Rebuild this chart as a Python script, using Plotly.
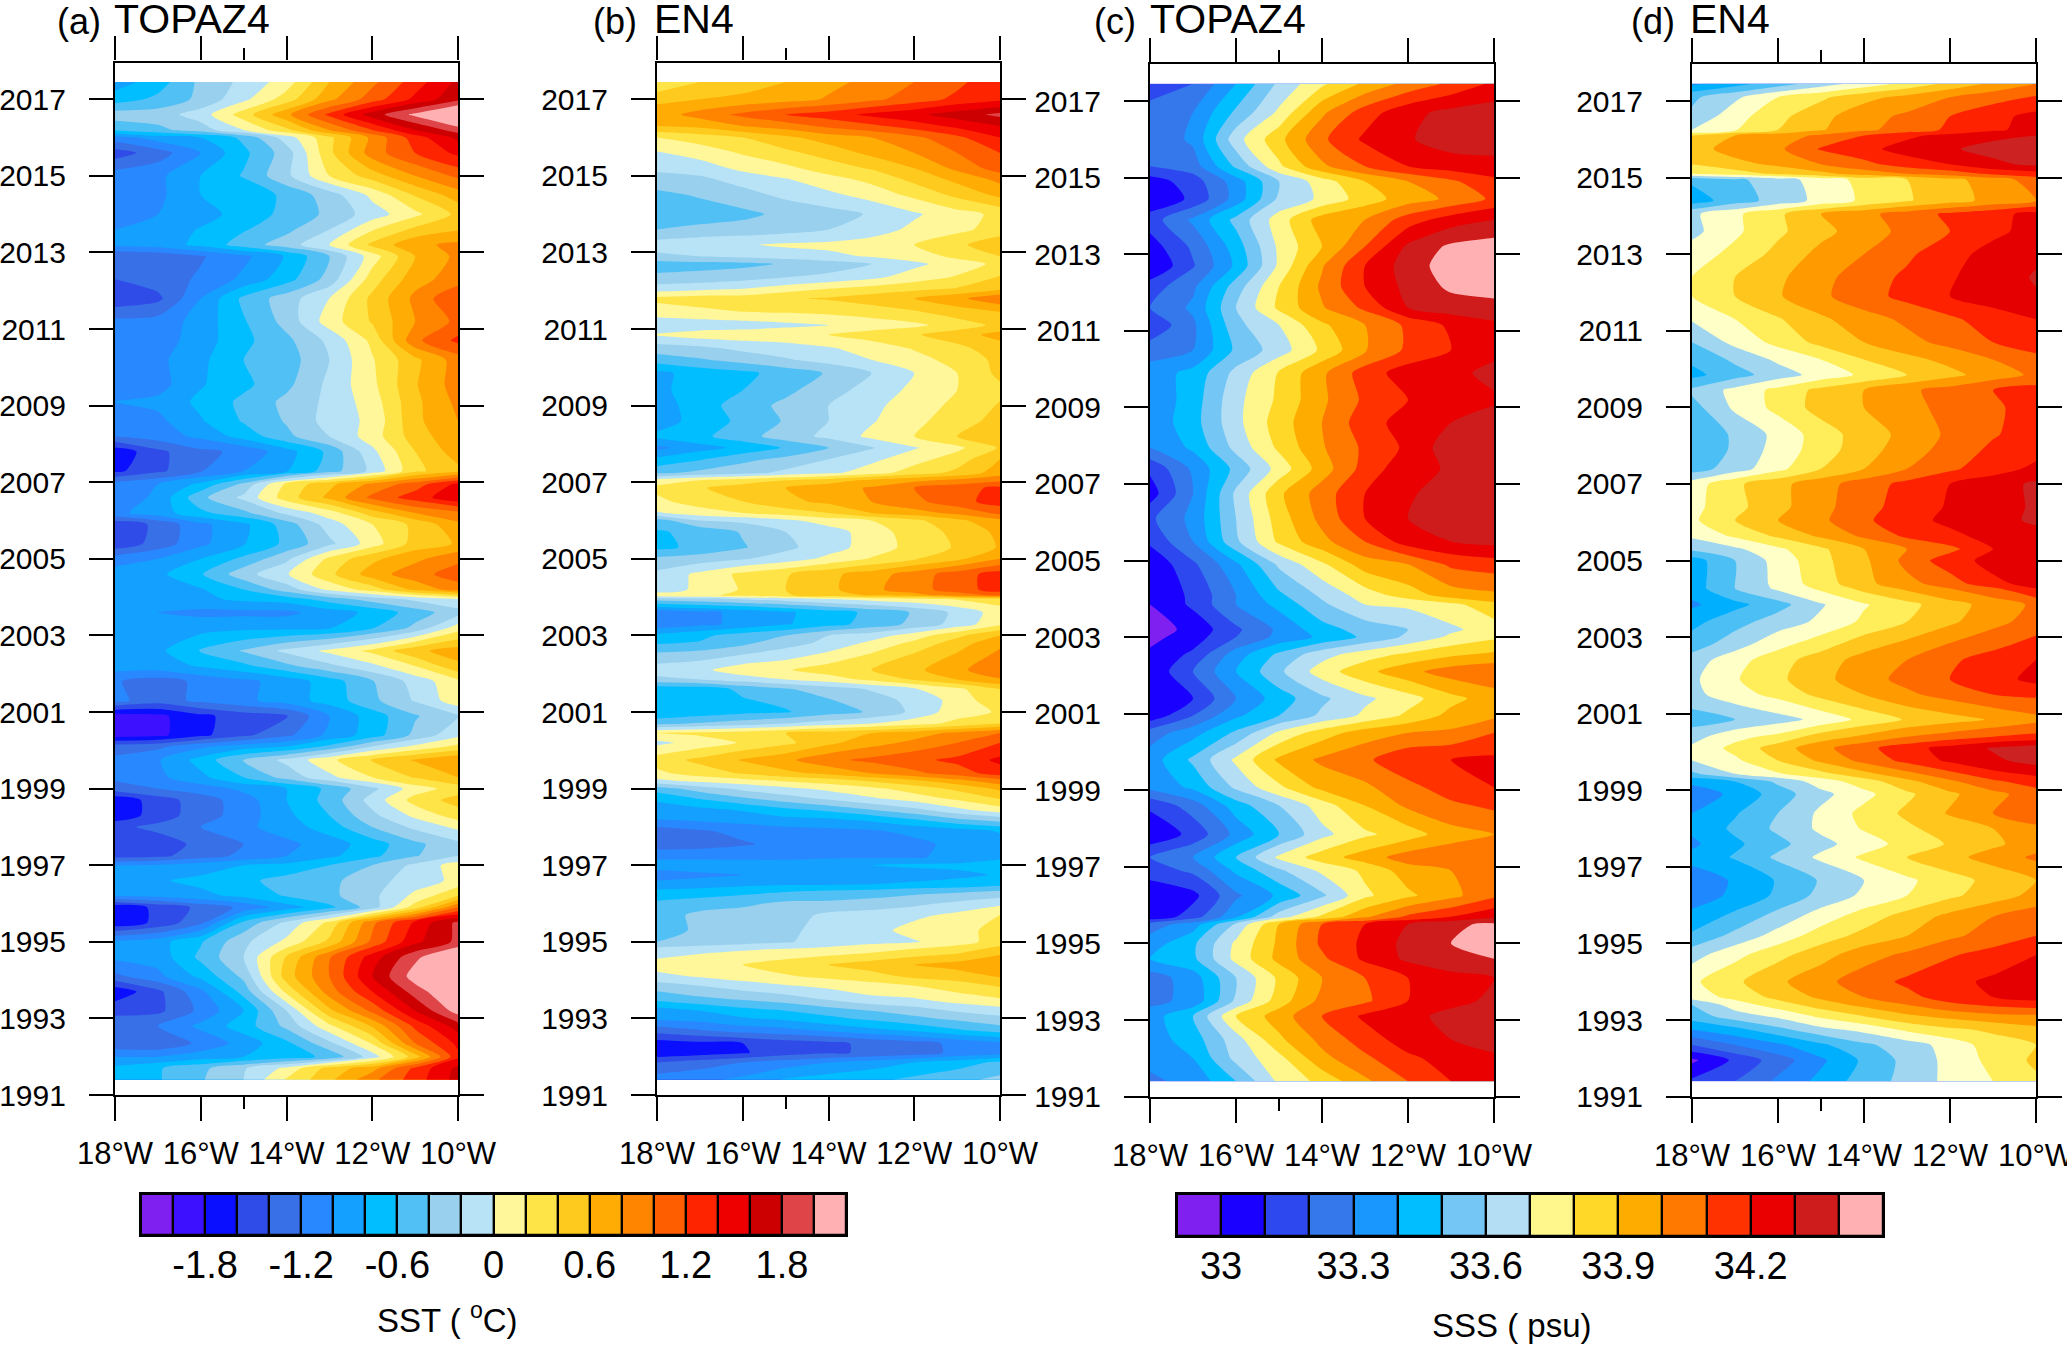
import plotly.graph_objects as go

W, H = 2067, 1346
LON = [-18, -17, -16, -15, -14, -13, -12, -11, -10]
LON_TICKS = [-18, -16, -14, -12, -10]
LON_LABELS = ["18°W", "16°W", "14°W", "12°W", "10°W"]
YEAR_TICKS = list(range(1991, 2018, 2))

SST_COLORS = ["#7F20F0","#3D10FF","#0A10FF","#304CE8","#3870E8","#2888FF","#14A0FF","#00BEFF","#50C0F5","#98D0EE","#B8E2F6",
              "#FFF79A","#FFE448","#FFCA1E","#FFAC04","#FF8400","#FF5E00","#FF2400","#EE0000","#CC0000","#DE4448","#FFB0B2"]
SSS_COLORS = ["#8020F0","#1A00FF","#2E48F0","#3478EC","#1A96FF","#00BEFF","#74C6F4","#B4DEF4",
              "#FFF78C","#FFD828","#FFAC00","#FF7800","#FF3200","#EA0000","#CE1C1C","#FFB0B2"]
SSS_D_COLORS = ["#8020F0","#2000FF","#2E48F0","#3670E8","#2088FF","#00B0FF","#4CC0F5","#A0D6F0",
                "#FFFFC8","#FFEE5A","#FFC61E","#FF9A00","#FF6A00","#FF2200","#E40000","#CC2222"]
SST_BAR_TICKS = [-1.8, -1.2, -0.6, 0, 0.6, 1.2, 1.8]
SST_BAR_LABELS = ["-1.8", "-1.2", "-0.6", "0", "0.6", "1.2", "1.8"]
SSS_BAR_TICKS = [33, 33.3, 33.6, 33.9, 34.2]
SSS_BAR_LABELS = ["33", "33.3", "33.6", "33.9", "34.2"]

A_YEARS = [2017.45,2017.0,2016.6,2016.2,2016.0,2015.6,2015.0,2014.5,2014.0,2013.6,2013.2,2012.9,2012.3,2011.8,2011.2,2010.7,2010.2,2009.55,2009.1,2008.6,2008.2,2007.8,2007.3,2006.95,2006.6,2006.2,2005.9,2005.4,2005.0,2004.6,2004.2,2003.95,2003.6,2003.2,2002.6,2002.2,2001.8,2001.3,2000.9,2000.4,2000.1,1999.75,1999.3,1999.0,1998.7,1998.3,1998.0,1997.55,1997.25,1997.0,1996.6,1996.2,1995.9,1995.5,1995.0,1994.6,1994.1,1993.7,1993.2,1992.8,1992.35,1992.0,1991.7,1991.4]
A_SST = [
[-.9,-.7,-.35,-.15,.1,.6,.95,1.3,1.65],
[-.7,-.55,-.35,-.05,.3,.75,1.1,1.45,1.75],
[-.3,-.3,-.1,.3,.75,1.25,1.7,2.05,2.4],
[-.55,-.45,-.3,0,.35,.8,1.2,1.6,1.9],
[-1.1,-.9,-.8,-.55,-.1,.35,.85,1.3,1.65],
[-1.5,-1.3,-1.0,-.65,-.3,.35,.9,1.2,1.45],
[-1.1,-1.05,-.8,-.58,-.25,.2,.5,.8,1.05],
[-1.1,-1.05,-.8,-.75,-.55,-.3,.05,.42,.7],
[-1.05,-1.0,-.9,-.7,-.55,-.35,-.1,.15,.45],
[-1.0,-.95,-.78,-.62,-.45,-.2,.18,.45,.58],
[-.95,-.9,-.75,-.5,-.3,0,.45,.75,.85],
[-1.4,-1.35,-1.22,-1.05,-.78,-.4,.1,.6,.85],
[-1.4,-1.3,-1.17,-.95,-.68,-.32,.3,.72,.9],
[-1.55,-1.45,-1.0,-.55,-.3,0,.45,.85,1.2],
[-1.15,-1.12,-.92,-.62,-.33,.1,.42,.8,1.05],
[-1.15,-1.1,-.9,-.65,-.45,-.15,.25,.95,1.25],
[-1.1,-1.05,-.85,-.6,-.5,-.2,.18,.55,.9],
[-1.15,-1.08,-.82,-.65,-.45,-.15,.15,.58,.9],
[-1.0,-.95,-.75,-.55,-.35,-.15,.1,.55,.85],
[-1.15,-1.05,-.82,-.58,-.38,-.12,.05,.55,.8],
[-1.2,-1.1,-.95,-.72,-.45,-.2,.1,.5,.75],
[-1.75,-1.45,-1.25,-1.15,-.88,-.55,-.05,.4,.7],
[-1.65,-1.45,-1.22,-1.0,-.82,-.5,-.15,.35,.55],
[-1.1,-1.0,-.75,-.35,.25,.55,.85,1.1,1.45],
[-1.15,-.95,-.45,-.15,.3,.65,1.05,1.3,1.55],
[-1.05,-.9,-.65,-.45,-.15,.1,.5,.8,.95],
[-1.55,-1.35,-1.05,-.85,-.5,-.1,.2,.45,.75],
[-1.55,-1.32,-1.05,-.82,-.55,-.25,.1,.48,.62],
[-1.1,-1.0,-.8,-.55,-.25,.25,.55,.75,.95],
[-.9,-.85,-.62,-.28,-.02,.35,.7,.92,1.1],
[-1.0,-.95,-.82,-.6,-.3,.05,.3,.65,.9],
[-.95,-.95,-.85,-.75,-.7,-.5,-.3,-.15,0],
[-1.0,-1.0,-1.05,-1.05,-1.05,-.9,-.75,-.5,-.28],
[-.9,-.9,-.88,-.85,-.85,-.82,-.62,-.35,.1],
[-.9,-.85,-.58,-.38,-.15,.05,.25,.55,.7],
[-.9,-.88,-.78,-.65,-.45,-.25,-.05,.2,.55],
[-1.18,-1.3,-1.15,-1.05,-.92,-.7,-.42,-.12,.15],
[-1.15,-1.3,-1.15,-1.05,-.9,-.72,-.45,-.18,.12],
[-1.9,-1.85,-1.65,-1.5,-1.42,-1.0,-.7,-.42,-.22],
[-1.9,-1.85,-1.65,-1.45,-1.25,-.95,-.7,-.35,-.05],
[-1.3,-1.25,-1.05,-.9,-.8,-.55,-.2,.05,.25],
[-1.15,-1.02,-.72,-.38,-.15,.15,.42,.62,.78],
[-1.15,-1.05,-.85,-.6,-.32,-.05,.2,.42,.6],
[-1.3,-1.2,-1.1,-.95,-.8,-.55,-.25,.1,.3],
[-1.75,-1.5,-1.3,-1.1,-.8,-.52,-.12,.28,.48],
[-1.75,-1.5,-1.3,-1.1,-.85,-.6,-.25,.05,.3],
[-1.45,-1.35,-1.2,-1.05,-.9,-.7,-.4,-.15,.05],
[-1.55,-1.5,-1.35,-1.2,-1.05,-.9,-.7,-.45,-.25],
[-1.5,-1.45,-1.3,-1.15,-1.0,-.85,-.65,-.42,-.2],
[-1.0,-.98,-.9,-.8,-.75,-.6,-.4,-.15,.1],
[-.9,-.82,-.75,-.65,-.52,-.45,-.28,-.1,.05],
[-1.0,-.95,-.85,-.75,-.58,-.45,-.25,.05,.4],
[-1.75,-1.55,-1.35,-1.15,-.9,-.65,-.3,.3,1.0],
[-1.75,-1.55,-1.25,-.55,-.15,.25,.95,1.45,1.85],
[-.95,-.88,-.62,-.25,.05,.45,1.05,1.55,1.85],
[-.95,-.92,-.55,-.2,.42,.98,1.5,1.95,2.3],
[-1.25,-1.05,-.75,-.35,.5,1.0,1.6,2.1,2.4],
[-1.75,-1.45,-1.05,-.52,.25,.9,1.4,1.9,2.25],
[-1.45,-1.45,-1.15,-.8,-.2,.55,1.05,1.6,2.1],
[-1.3,-1.2,-.95,-.7,-.35,.15,.62,1.25,1.7],
[-1.35,-1.38,-1.15,-.92,-.65,-.25,.22,1.0,1.45],
[-1.0,-1.0,-.9,-.8,-.7,-.55,-.1,.5,1.35],
[-.75,-.62,-.45,-.22,.05,.48,.72,1.25,1.65],
[-.7,-.62,-.42,-.2,.22,.55,.95,1.3,1.68],
]

B_YEARS = [2017.45,2017.0,2016.6,2016.3,2016.0,2015.6,2015.2,2014.9,2014.5,2014.0,2013.6,2013.2,2012.9,2012.7,2012.35,2012.05,2011.8,2011.45,2011.1,2010.85,2010.5,2010.2,2009.85,2009.4,2009.0,2008.6,2008.2,2007.9,2007.6,2007.25,2007.05,2006.85,2006.5,2006.2,2006.0,2005.7,2005.3,2005.0,2004.6,2004.2,2004.05,2003.95,2003.6,2003.3,2003.0,2002.8,2002.5,2002.1,2001.85,2001.6,2001.3,2001.0,2000.7,2000.45,2000.2,1999.75,1999.4,1999.2,1999.0,1998.75,1998.45,1998.2,1997.9,1997.55,1997.2,1997.0,1996.75,1996.5,1996.3,1996.0,1995.7,1995.3,1995.0,1994.8,1994.4,1994.1,1993.85,1993.5,1993.2,1993.0,1992.7,1992.35,1992.1,1991.85,1991.4]
B_SST = [
[.2,.4,.5,.6,.75,.85,1.0,1.15,1.35],
[.55,.6,.65,.72,.82,.95,1.1,1.25,1.35],
[.7,.88,1.05,1.2,1.3,1.45,1.55,1.7,1.85],
[.6,.65,.8,.9,1.05,1.15,1.3,1.45,1.6],
[.2,.3,.4,.55,.7,.8,.95,1.15,1.4],
[-.02,.08,.22,.35,.48,.65,.8,1.0,1.2],
[-.15,-.1,.05,.15,.3,.42,.6,.85,1.1],
[-.3,-.25,-.12,-.02,.12,.25,.45,.65,.85],
[-.45,-.38,-.28,-.15,-.05,.08,.25,.45,.65],
[-.55,-.5,-.45,-.35,-.28,-.18,-.03,.12,.25],
[-.4,-.35,-.32,-.28,-.2,-.1,.05,.15,.28],
[-.1,-.05,-.02,.03,.05,.1,.2,.35,.55],
[-.25,-.2,-.15,-.1,-.05,.02,.1,.25,.4],
[-.5,-.47,-.45,-.38,-.3,-.2,-.05,.1,.25],
[-.35,-.33,-.28,-.2,-.15,-.05,.1,.22,.42],
[-.1,-.05,0,.1,.2,.28,.35,.42,.55],
[.25,.3,.3,.38,.42,.5,.6,.75,.95],
[.1,.15,.2,.22,.25,.3,.38,.5,.6],
[-.15,-.12,-.1,-.05,0,.08,.15,.3,.45],
[.02,.1,.12,.15,.2,.3,.38,.5,.68],
[-.3,-.25,-.15,-.1,-.02,.08,.22,.35,.5],
[-.5,-.42,-.32,-.22,-.12,0,.12,.28,.45],
[-.85,-.72,-.65,-.52,-.38,-.2,0,.2,.45],
[-.85,-.7,-.6,-.45,-.28,-.12,.05,.2,.35],
[-.9,-.7,-.5,-.35,-.2,-.05,.1,.25,.42],
[-.9,-.72,-.55,-.38,-.2,-.02,.15,.3,.48],
[-.75,-.65,-.48,-.3,-.15,.05,.2,.4,.6],
[-1.05,-.88,-.75,-.58,-.4,-.22,-.02,.15,.42],
[-.75,-.62,-.45,-.35,-.2,-.05,.12,.3,.6],
[-.45,-.35,-.28,-.15,-.05,.1,.3,.45,.7],
[.1,.2,.3,.4,.5,.65,.75,.85,.95],
[.25,.38,.5,.6,.72,.82,1.0,1.12,1.25],
[.15,.3,.4,.55,.65,.8,.95,1.12,1.3],
[-.02,.1,.2,.3,.4,.6,.72,.85,1.05],
[-.5,-.2,-.15,-.05,.1,.2,.35,.55,.75],
[-.62,-.55,-.38,-.2,-.1,.1,.3,.45,.65],
[-.65,-.55,-.42,-.25,-.08,.08,.28,.42,.62],
[-.35,-.3,-.22,-.1,.05,.22,.38,.55,.8],
[-.15,.05,.25,.38,.55,.7,.9,1.1,1.3],
[-.12,.05,.22,.4,.55,.75,.92,1.1,1.3],
[.1,.15,.25,.38,.5,.62,.72,.9,1.05],
[-.3,-.25,-.18,-.1,0,.08,.15,.22,.3],
[-1.15,-1.05,-.95,-.83,-.7,-.55,-.38,-.15,.1],
[-1.15,-1.05,-.95,-.82,-.68,-.52,-.35,-.12,.15],
[-.75,-.65,-.5,-.4,-.2,-.1,.1,.35,.6],
[-.62,-.58,-.45,-.28,-.15,.05,.25,.5,.75],
[-.35,-.3,-.2,-.1,.05,.22,.42,.62,.85],
[-.1,-.05,.12,.18,.3,.4,.55,.75,.95],
[-.25,-.2,-.1,0,.1,.25,.42,.6,.78],
[-.75,-.72,-.55,-.42,-.3,-.18,-.02,.15,.4],
[-.78,-.72,-.62,-.55,-.42,-.28,-.15,.08,.35],
[-.8,-.72,-.65,-.62,-.48,-.38,-.15,.12,.22],
[-.45,-.38,-.3,-.2,-.1,0,.12,.25,.4],
[.2,.25,.3,.4,.5,.6,.7,.85,1.0],
[-.05,.08,.22,.35,.55,.72,.85,1.0,1.2],
[.3,.45,.62,.75,.95,1.05,1.15,1.25,1.45],
[.15,.3,.42,.55,.65,.8,.95,1.1,1.3],
[-.05,.05,.12,.22,.3,.42,.55,.72,.92],
[-.5,-.3,-.15,-.05,.05,.15,.3,.45,.65],
[-.75,-.58,-.42,-.28,-.15,-.02,.1,.25,.42],
[-.9,-.85,-.78,-.65,-.55,-.4,-.25,-.05,.12],
[-1.0,-.95,-.9,-.85,-.82,-.75,-.6,-.42,-.3],
[-1.3,-1.22,-1.15,-1.08,-1.05,-1.02,-.95,-.88,-.78],
[-1.3,-1.28,-1.22,-1.15,-1.1,-1.08,-1.05,-.95,-.88],
[-1.05,-1.05,-1.05,-1.05,-1.02,-1.02,-1.02,-.95,-.85],
[-.85,-.85,-.88,-.88,-.85,-.8,-.75,-.75,-.65],
[-1.15,-1.05,-1.0,-.95,-.95,-.92,-.92,-.85,-.78],
[-.9,-.9,-.85,-.82,-.82,-.8,-.75,-.72,-.65],
[-.75,-.7,-.65,-.6,-.55,-.52,-.45,-.42,-.35],
[-.55,-.5,-.45,-.35,-.35,-.3,-.25,-.15,-.05],
[-.5,-.35,-.3,-.3,-.15,-.12,-.05,.05,.2],
[-.45,-.38,-.3,-.25,-.12,-.08,.08,.15,.25],
[-.4,-.35,-.28,-.22,-.12,-.05,-.02,.12,.28],
[-.12,-.05,-.02,.02,.06,.12,.22,.3,.5],
[.08,.12,.2,.3,.4,.5,.6,.68,.78],
[-.05,.02,.1,.18,.25,.32,.45,.5,.62],
[-.3,-.2,-.1,-.02,.05,.12,.2,.3,.42],
[-.55,-.45,-.38,-.3,-.18,-.05,-.02,.1,.18],
[-.9,-.8,-.68,-.6,-.5,-.4,-.3,-.18,-.1],
[-.95,-.92,-.82,-.75,-.65,-.55,-.45,-.35,-.25],
[-1.3,-1.2,-1.1,-1.05,-.95,-.85,-.75,-.62,-.5],
[-1.7,-1.65,-1.6,-1.5,-1.45,-1.35,-1.28,-1.15,-1.05],
[-1.75,-1.7,-1.62,-1.5,-1.42,-1.38,-1.3,-1.15,-1.1],
[-1.4,-1.3,-1.2,-1.1,-1.0,-.9,-.8,-.7,-.55],
[-1.1,-1.05,-.95,-.78,-.7,-.65,-.55,-.45,-.35],
]

C_YEARS = [2017.45,2016.7,2016.0,2015.3,2014.9,2014.45,2013.9,2013.2,2012.7,2012.15,2011.6,2011.15,2010.5,2009.9,2009.2,2008.6,2007.95,2007.4,2006.75,2006.1,2005.5,2004.9,2004.1,2003.85,2003.2,2003.0,2002.55,2002.1,2001.4,2000.95,2000.5,1999.8,1999.08,1998.6,1997.85,1997.25,1996.9,1996.25,1995.7,1995.5,1995.0,1994.6,1994.1,1993.5,1993.1,1992.5,1992.0,1991.4]
C_SSS = [
[33.13,33.2,33.4,33.62,33.78,33.92,34.03,34.12,34.22],
[33.25,33.3,33.52,33.72,33.98,34.15,34.27,34.33,34.35],
[33.22,33.32,33.66,33.87,34.08,34.22,34.29,34.35,34.38],
[33.2,33.25,33.52,33.78,33.98,34.1,34.2,34.25,34.25],
[33.05,33.15,33.35,33.6,33.75,33.9,34.0,34.08,34.18],
[33.02,33.12,33.34,33.62,33.72,33.85,33.95,34.02,34.12],
[33.15,33.32,33.53,33.75,33.95,34.0,34.15,34.25,34.3],
[33.05,33.22,33.45,33.72,33.9,34.1,34.32,34.42,34.45],
[33.0,33.19,33.42,33.72,33.99,34.2,34.35,34.45,34.47],
[33.15,33.28,33.55,33.8,34.02,34.2,34.33,34.42,34.45],
[33.2,33.32,33.6,33.82,33.99,34.12,34.3,34.35,34.36],
[33.12,33.28,33.57,33.7,33.88,34.0,34.12,34.22,34.28],
[33.25,33.3,33.52,33.65,33.82,33.99,34.12,34.2,34.28],
[33.35,33.43,33.63,33.81,33.98,34.15,34.25,34.28,34.32],
[33.32,33.45,33.67,33.82,33.98,34.12,34.2,34.27,34.29],
[33.33,33.46,33.67,33.85,34.0,34.16,34.24,34.3,34.33],
[33.3,33.42,33.63,33.82,33.99,34.12,34.22,34.36,34.38],
[33.12,33.32,33.53,33.74,33.95,34.14,34.27,34.31,34.37],
[33.05,33.3,33.62,33.88,34.05,34.2,34.28,34.37,34.4],
[33.18,33.33,33.6,33.85,34.03,34.2,34.3,34.38,34.38],
[33.12,33.3,33.58,33.82,33.97,34.1,34.25,34.3,34.33],
[33.02,33.18,33.38,33.62,33.78,33.95,34.0,34.12,34.15],
[33.02,33.12,33.3,33.48,33.62,33.75,33.85,33.95,33.98],
[33.0,33.12,33.3,33.43,33.58,33.7,33.72,33.77,33.87],
[32.95,33.03,33.18,33.32,33.46,33.54,33.6,33.68,33.75],
[32.97,33.05,33.2,33.33,33.42,33.52,33.62,33.72,33.78],
[33.02,33.12,33.35,33.52,33.66,33.75,33.82,33.88,33.92],
[33.02,33.2,33.4,33.58,33.75,33.87,33.97,34.05,34.08],
[33.0,33.1,33.3,33.45,33.58,33.68,33.76,33.87,33.95],
[33.03,33.2,33.38,33.5,33.62,33.72,33.82,33.93,33.98],
[33.25,33.36,33.52,33.72,33.85,33.95,34.0,34.02,34.1],
[33.35,33.52,33.72,33.92,34.02,34.08,34.18,34.2,34.22],
[33.33,33.42,33.62,33.78,33.93,33.98,34.07,34.15,34.2],
[33.12,33.25,33.45,33.6,33.75,33.9,34.02,34.08,34.12],
[33.02,33.13,33.33,33.5,33.67,33.78,33.85,33.96,34.0],
[33.2,33.3,33.5,33.72,33.85,33.95,34.05,34.06,34.08],
[33.15,33.22,33.42,33.58,33.72,33.82,33.95,34.0,34.08],
[33.02,33.07,33.28,33.42,33.58,33.78,33.88,33.97,34.08],
[33.02,33.15,33.38,33.65,33.82,33.98,34.12,34.2,34.28],
[33.25,33.35,33.62,33.9,34.1,34.2,34.3,34.38,34.42],
[33.35,33.48,33.72,33.92,34.12,34.22,34.33,34.4,34.46],
[33.4,33.48,33.73,33.93,34.08,34.22,34.32,34.36,34.4],
[33.25,33.35,33.6,33.82,34.0,34.1,34.2,34.27,34.3],
[33.27,33.33,33.62,33.85,34.03,34.08,34.2,34.27,34.32],
[33.35,33.5,33.8,33.95,34.1,34.22,34.27,34.33,34.37],
[33.35,33.45,33.66,33.88,34.03,34.15,34.25,34.3,34.35],
[33.33,33.4,33.63,33.77,33.97,34.08,34.18,34.24,34.28],
[33.28,33.33,33.5,33.72,33.83,33.98,34.1,34.2,34.27],
]

D_YEARS = [2017.45,2017.1,2016.6,2016.25,2016.1,2015.75,2015.35,2015.1,2014.95,2014.4,2014.05,2013.6,2013.0,2012.4,2011.9,2011.3,2010.7,2010.25,2009.85,2009.45,2009.0,2008.3,2007.9,2007.4,2007.0,2006.4,2006.05,2005.65,2005.3,2005.0,2004.4,2004.27,2003.85,2003.4,2002.8,2002.4,2001.9,2001.5,2000.85,2000.4,2000.1,1999.78,1999.43,1999.23,1998.9,1998.4,1998.0,1997.6,1997.25,1996.65,1996.25,1995.7,1995.2,1994.7,1994.0,1993.6,1993.4,1993.1,1992.75,1992.35,1991.95,1991.4]
D_SSS = [
[33.38,33.46,33.55,33.65,33.74,33.83,33.93,34.02,34.1],
[33.58,33.68,33.8,33.88,33.97,34.03,34.1,34.16,34.21],
[33.62,33.76,33.87,33.97,34.06,34.12,34.2,34.27,34.33],
[33.7,33.79,33.9,33.99,34.08,34.14,34.22,34.28,34.34],
[33.9,34.0,34.05,34.12,34.2,34.28,34.33,34.38,34.4],
[33.96,34.04,34.08,34.21,34.27,34.34,34.39,34.43,34.46],
[33.9,33.97,34.02,34.1,34.17,34.25,34.3,34.38,34.42],
[33.8,33.85,33.92,33.97,34.05,34.1,34.15,34.22,34.26],
[33.52,33.58,33.65,33.75,33.83,33.9,33.97,34.05,34.15],
[33.45,33.55,33.64,33.73,33.82,33.89,33.96,34.03,34.1],
[33.68,33.78,33.88,34.0,34.07,34.15,34.22,34.27,34.33],
[33.67,33.78,33.88,33.97,34.05,34.13,34.2,34.28,34.33],
[33.75,33.83,33.93,34.03,34.1,34.18,34.27,34.33,34.38],
[33.8,33.9,33.98,34.07,34.15,34.22,34.29,34.35,34.41],
[33.8,33.9,33.99,34.08,34.16,34.23,34.3,34.35,34.39],
[33.71,33.8,33.89,33.98,34.06,34.12,34.18,34.25,34.3],
[33.6,33.73,33.83,33.93,34.0,34.07,34.13,34.2,34.27],
[33.52,33.62,33.72,33.8,33.9,33.97,34.03,34.1,34.16],
[33.47,33.56,33.65,33.74,33.82,33.9,33.97,34.05,34.12],
[33.62,33.73,33.83,33.93,34.0,34.08,34.14,34.2,34.24],
[33.56,33.72,33.83,33.94,34.0,34.07,34.13,34.18,34.25],
[33.5,33.62,33.73,33.85,33.95,34.03,34.12,34.19,34.25],
[33.5,33.62,33.74,33.85,33.96,34.05,34.14,34.22,34.27],
[33.55,33.65,33.77,33.9,34.0,34.1,34.18,34.26,34.32],
[33.75,33.88,33.97,34.06,34.15,34.23,34.3,34.35,34.42],
[33.77,33.87,33.97,34.07,34.16,34.25,34.31,34.37,34.41],
[33.78,33.9,34.0,34.08,34.18,34.27,34.32,34.38,34.41],
[33.72,33.82,33.92,34.02,34.12,34.22,34.28,34.33,34.38],
[33.62,33.68,33.78,33.88,34.0,34.1,34.17,34.3,34.38],
[33.45,33.6,33.74,33.87,33.98,34.13,34.26,34.33,34.38],
[33.45,33.6,33.73,33.85,33.97,34.07,34.15,34.28,34.33],
[33.45,33.6,33.72,33.82,33.93,34.02,34.1,34.18,34.3],
[33.38,33.47,33.56,33.69,33.79,33.87,33.96,34.04,34.12],
[33.47,33.56,33.65,33.72,33.82,33.9,33.98,34.07,34.14],
[33.55,33.66,33.77,33.86,33.96,34.03,34.11,34.17,34.24],
[33.65,33.76,33.86,33.95,34.04,34.1,34.18,34.25,34.3],
[33.68,33.79,33.88,33.97,34.06,34.13,34.2,34.26,34.33],
[33.67,33.76,33.83,33.93,34.0,34.08,34.14,34.2,34.22],
[33.55,33.6,33.66,33.73,33.83,33.91,33.96,34.01,34.07],
[33.66,33.77,33.83,33.95,34.02,34.1,34.15,34.2,34.23],
[33.72,33.83,33.95,34.07,34.17,34.26,34.34,34.41,34.46],
[33.7,33.78,33.9,34.02,34.13,34.23,34.32,34.38,34.44],
[33.58,33.7,33.79,33.87,33.97,34.07,34.17,34.27,34.32],
[33.42,33.5,33.62,33.75,33.85,33.97,34.08,34.18,34.25],
[33.35,33.42,33.55,33.67,33.77,33.88,33.98,34.07,34.15],
[33.4,33.49,33.6,33.72,33.83,33.92,34.01,34.1,34.16],
[33.42,33.52,33.62,33.72,33.81,33.88,33.95,34.0,34.08],
[33.38,33.48,33.57,33.67,33.75,33.84,33.91,33.98,34.05],
[33.43,33.51,33.62,33.72,33.82,33.9,33.97,34.04,34.12],
[33.35,33.41,33.51,33.61,33.7,33.78,33.86,33.93,34.0],
[33.35,33.42,33.52,33.63,33.72,33.8,33.88,33.95,34.03],
[33.43,33.53,33.64,33.75,33.85,33.94,34.03,34.1,34.16],
[33.52,33.63,33.74,33.85,33.93,34.0,34.08,34.14,34.2],
[33.66,33.77,33.87,33.96,34.06,34.12,34.19,34.24,34.3],
[33.78,33.88,33.98,34.07,34.15,34.22,34.27,34.32,34.38],
[33.75,33.83,33.93,34.02,34.1,34.17,34.25,34.3,34.34],
[33.6,33.75,33.85,33.95,34.03,34.1,34.18,34.22,34.25],
[33.55,33.65,33.72,33.82,33.9,33.98,34.03,34.07,34.08],
[33.4,33.47,33.57,33.67,33.73,33.82,33.88,33.92,33.97],
[33.2,33.3,33.38,33.48,33.58,33.65,33.74,33.85,33.9],
[32.98,33.12,33.25,33.38,33.52,33.63,33.73,33.83,33.92],
[33.12,33.2,33.32,33.43,33.55,33.63,33.73,33.8,33.88],
]


def steps(colors):
    n = len(colors)
    out = []
    for i, c in enumerate(colors):
        out += [[i / n, c], [(i + 1) / n, c]]
    return out


FONT = "Liberation Sans"
AXIS_W = 2.2
TICK_LEN = 24
fig = go.Figure()

panels = [
    ("a", "TOPAZ4", A_YEARS, A_SST, SST_COLORS, -2.0, 2.0, 0.2, 115, 458, 62.5, 1095, 56, 113),
    ("b", "EN4", B_YEARS, B_SST, SST_COLORS, -2.0, 2.0, 0.2, 657, 1000, 62.5, 1095, 592, 653),
    ("c", "TOPAZ4", C_YEARS, C_SSS, SSS_COLORS, 33.0, 34.4, 0.1, 1150, 1494, 64.3, 1096.6, 1093, 1149),
    ("d", "EN4", D_YEARS, D_SSS, SSS_D_COLORS, 33.0, 34.4, 0.1, 1692, 2036, 64.3, 1096.6, 1630, 1689),
]
ann = []
for i, (tag, name, years, z, cols, lo, hi, step, x0, x1, y0, y1, tx0, tx1) in enumerate(panels, 1):
    fig.add_trace(go.Contour(
        x=LON, y=years[::-1], z=z[::-1], colorscale=steps(cols),
        zmin=lo - step, zmax=hi + step, autocontour=False,
        contours=dict(start=lo, end=hi, size=step, coloring="fill", showlines=False),
        line=dict(width=0, smoothing=0.7), showscale=False,
        xaxis=f"x{i}", yaxis=f"y{i}", hoverinfo="skip"))
    s = "" if i == 1 else str(i)
    fig.layout[f"xaxis{s}"] = dict(
        domain=[x0 / W, x1 / W], range=[-18, -10], tickmode="array", tickvals=LON_TICKS, ticktext=LON_LABELS,
        ticks="outside", ticklen=TICK_LEN, tickwidth=AXIS_W, tickcolor="black", showline=True, linecolor="black",
        linewidth=AXIS_W, mirror="ticks", showgrid=False, zeroline=False, anchor=f"y{s}", automargin=False,
        tickfont=dict(family=FONT, size=31, color="black"), ticklabelstandoff=6, ticklabeloverflow="allow",
        minor=dict(tickmode="array", tickvals=[-15], ticks="outside", ticklen=12, tickwidth=AXIS_W, tickcolor="black", showgrid=False))
    fig.layout[f"yaxis{s}"] = dict(
        domain=[1 - y1 / H, 1 - y0 / H], range=[1991, 2017.96], tickmode="array", tickvals=YEAR_TICKS,
        ticktext=[str(v) for v in YEAR_TICKS], ticks="outside", ticklen=TICK_LEN, tickwidth=AXIS_W, tickcolor="black",
        showline=True, linecolor="black", linewidth=AXIS_W, mirror="ticks", showgrid=False, zeroline=False, anchor=f"x{s}",
        automargin=False, tickfont=dict(family=FONT, size=30, color="black"), ticklabelstandoff=17)
    for txt, xp, sz in ((f"({tag})", tx0, 36), (name, tx1, 41)):
        ann.append(dict(text=txt, x=xp / W, y=1 - 44 / H, xref="paper", yref="paper", xanchor="left", yanchor="bottom",
                        showarrow=False, font=dict(family=FONT, size=sz, color="black"), xshift=-1, yshift=0))

bars = [
    (SST_COLORS, -2.2, 0.2, SST_BAR_TICKS, SST_BAR_LABELS, 141, 846, 1194, 1235, "SST ( <sup>o</sup>C)", 447, 1318),
    (SSS_COLORS, 32.9, 0.1, SSS_BAR_TICKS, SSS_BAR_LABELS, 1177, 1883, 1194, 1236, "SSS ( psu)", 1512, 1325),
]
for j, (cols, first, step, tv, tl, x0, x1, y0, y1, title, tx, ty) in enumerate(bars, 5):
    centers = [first + step * (k + 0.5) for k in range(len(cols))]
    fig.add_trace(go.Bar(x=centers, y=[1] * len(cols), width=step, marker=dict(color=cols, line=dict(color="black", width=2.2)),
                         xaxis=f"x{j}", yaxis=f"y{j}", hoverinfo="skip", showlegend=False))
    fig.layout[f"xaxis{j}"] = dict(domain=[x0 / W, x1 / W], range=[first, first + step * len(cols)], tickmode="array", tickvals=tv,
                                   ticktext=tl, ticks="", showline=True, linecolor="black", linewidth=2.2, mirror=True,
                                   showgrid=False, zeroline=False, anchor=f"y{j}", ticklabelstandoff=-5, automargin=False,
                                   tickfont=dict(family=FONT, size=38, color="black"))
    fig.layout[f"yaxis{j}"] = dict(domain=[1 - y1 / H, 1 - y0 / H], range=[0, 1], showticklabels=False, ticks="", showline=True,
                                   linecolor="black", linewidth=2.2, mirror=True, showgrid=False, zeroline=False, anchor=f"x{j}",
                                   automargin=False)
    ann.append(dict(text=title, x=tx / W, y=1 - ty / H, xref="paper", yref="paper", xanchor="center", yanchor="middle",
                    showarrow=False, font=dict(family=FONT, size=33, color="black")))

fig.update_layout(width=W, height=H, autosize=False, margin=dict(l=0, r=0, t=0, b=0), paper_bgcolor="white",
                  plot_bgcolor="white", showlegend=False, annotations=ann, bargap=0)
fig.write_html("out.html", config=dict(displayModeBar=False), post_script="document.body.style.margin='0';document.body.style.overflow='hidden';")
